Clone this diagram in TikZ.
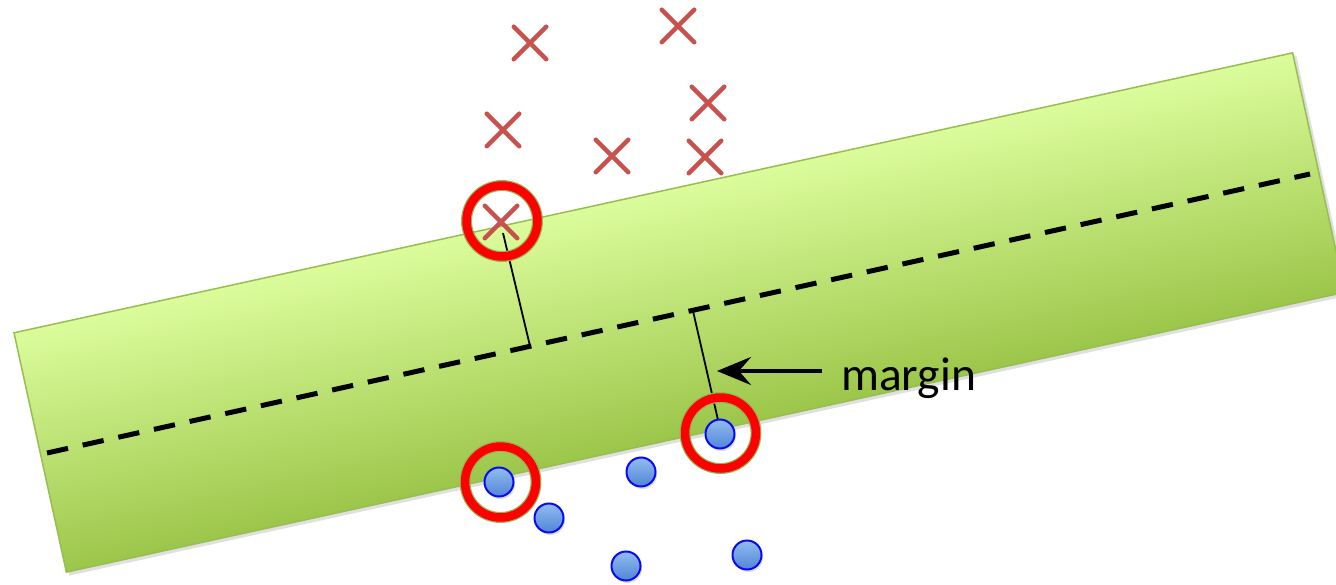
\documentclass[tikz,border=0pt]{standalone}
\usepackage{fontspec}
\newfontfamily\calib{Carlito}
\usetikzlibrary{shapes.misc,arrows.meta,shadows}
\definecolor{bandtop}{RGB}{220,252,156}
\definecolor{bandbot}{RGB}{156,198,74}
\definecolor{bandedge}{RGB}{150,190,80}
\definecolor{xred}{RGB}{200,80,77}
\definecolor{ringred}{RGB}{255,0,0}
\definecolor{ringedge}{RGB}{150,180,80}
\definecolor{btop}{RGB}{146,188,240}
\definecolor{bbot}{RGB}{80,134,214}
\definecolor{bedge}{RGB}{10,10,240}
\tikzset{
  xmark/.style={cross out, draw=xred, line width=4.5pt, line cap=round, minimum size=28pt, inner sep=0pt},
  omark/.style={circle, draw=bedge, line width=2pt, top color=btop, bottom color=bbot, minimum size=29pt, inner sep=0pt,
    drop shadow={opacity=0.25, shadow xshift=1.5pt, shadow yshift=-2.5pt}},
  ring/.style={circle, draw=ringedge, double=ringred, double distance=8.5pt, line width=1.2pt, minimum size=71pt, inner sep=0pt},
  mline/.style={line width=1.8pt},
  sepline/.style={line width=5pt, dash pattern=on 21.5pt off 15pt},
  arrowline/.style={line width=4pt, -{Stealth[length=34pt, width=28pt, inset=12pt]}},
}
\begin{document}
\begin{tikzpicture}[x=1pt, y=-1pt]
\useasboundingbox (0,0) rectangle (1336,585);
\clip (0,0) rectangle (1336,585);
% band
\begin{scope}[transform canvas={shift={(679.5,312.5)}, rotate=12.35}]
  \fill[black, opacity=0.12] (-652.5,-119.5) rectangle (657.5,126.5);
  \shade[top color=bandtop, bottom color=bandbot] (-654.5,-122.5) rectangle (654.5,122.5);
  \draw[bandedge, line width=1.5pt] (-654.5,-122.5) rectangle (654.5,122.5);
\end{scope}
% separating line
\coordinate (d1) at (47,453);
\coordinate (d2) at (1310,174);
\draw[sepline] (d1) -- (d2);
% margin lines
\coordinate (m1a) at (503,233);
\coordinate (m1b) at (530,346);
\coordinate (m2a) at (693,311);
\coordinate (m2b) at (718,420);
\draw[mline] (m1a) -- (m1b);
\draw[mline] (m2a) -- (m2b);
% crosses
\node[xmark] (x1) at (530,43) {};
\node[xmark] (x2) at (678,26) {};
\node[xmark] (x3) at (708,103) {};
\node[xmark] (x4) at (503,130) {};
\node[xmark] (x5) at (612,156) {};
\node[xmark] (x6) at (705,157) {};
\node[xmark] (x7) at (501,222) {};
% circles
\node[omark] (o1) at (499,482) {};
\node[omark] (o2) at (549,518) {};
\node[omark] (o3) at (641,472) {};
\node[omark] (o4) at (626,566) {};
\node[omark] (o5) at (747,555) {};
\node[omark] (o6) at (720,434) {};
% rings
\node[ring] (r1) at (502,221) {};
\node[ring] (r2) at (500.5,482) {};
\node[ring] (r3) at (720.5,433) {};
% label and arrow
\node[anchor=base west, inner sep=0pt, font=\calib\fontsize{47.5}{57}\selectfont] (mtext) at (841,390) {margin};
\coordinate (as) at (822,371);
\coordinate (at) at (717,371);
\draw[arrowline] (as) -- (at);
\end{tikzpicture}
\end{document}
